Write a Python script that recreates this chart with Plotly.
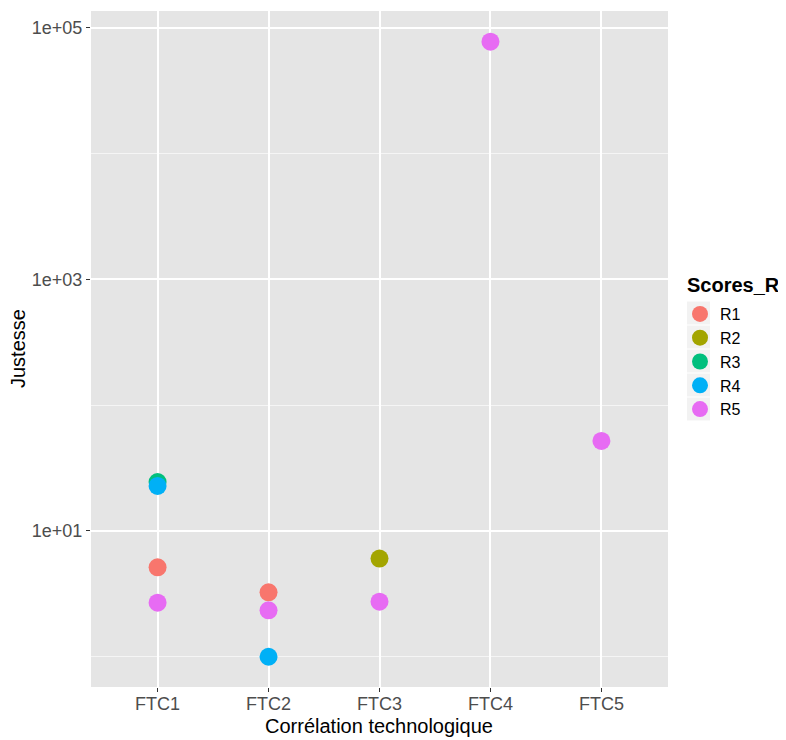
import plotly.graph_objects as go

categories = ["FTC1", "FTC2", "FTC3", "FTC4", "FTC5"]
series_names = ["R1", "R2", "R3", "R4", "R5"]
colors = ["#F8766D", "#A3A500", "#00BF7D", "#00B0F6", "#E76BF3"]

r1 = [5.14, 3.25, None, None, None]
r2 = [None, None, 6.03, None, None]
r3 = [24.5, None, None, None, None]
r4 = [22.8, 1.0, None, None, None]
r5 = [2.69, 2.34, 2.74, 77800, 52]

major_ticks = [10, 1000, 100000]
major_labels = ["1e+01", "1e+03", "1e+05"]
minor_ticks = [1, 100, 10000]

# page body has an 8px margin, so the figure sits 8px right/down in the window
OFF = 8
W, H = 786, 740
L, T = 91 - OFF, 11 - OFF
pw, ph = 577, 676
R, B = W - L - pw, H - T - ph


def px(x):
    return (x - OFF - L) / pw


def py(y):
    return (T + ph - (y - OFF)) / ph


fig = go.Figure()
for name, vals, col in zip(series_names, [r1, r2, r3, r4, r5], colors):
    fig.add_trace(go.Scatter(
        x=categories, y=vals, mode="markers", name=name,
        marker=dict(color=col, size=18, line=dict(width=0)),
    ))

font_family = "Liberation Sans, Arial, sans-serif"

# grey key backgrounds like ggplot legend
for i in range(5):
    yc = 313 + 24 * i
    fig.add_shape(type="rect", xref="paper", yref="paper",
                  x0=px(687), x1=px(710),
                  y0=py(yc + 11.5), y1=py(yc - 11.5),
                  fillcolor="#F2F2F2", line=dict(width=0), layer="below")

fig.add_annotation(text="<b>Scores_R</b>", xref="paper", yref="paper",
                   x=px(685), y=py(285), xanchor="left", yanchor="middle",
                   showarrow=False, font=dict(size=20, color="black"))
fig.add_annotation(text="Corrélation technologique", xref="paper", yref="paper",
                   x=px(379), y=py(726), xanchor="center", yanchor="middle",
                   showarrow=False, font=dict(size=20, color="black"))
fig.add_annotation(text="Justesse", xref="paper", yref="paper", textangle=-90,
                   x=px(18), y=py(349), xanchor="center", yanchor="middle",
                   showarrow=False, font=dict(size=20, color="black"))

fig.update_layout(
    width=W, height=H,
    margin=dict(l=L, r=R, t=T, b=B, autoexpand=False),
    plot_bgcolor="#E5E5E5", paper_bgcolor="white",
    font=dict(family=font_family, size=18, color="black"),
    legend=dict(
        x=px(680), xanchor="left", y=py(297), yanchor="top",
        itemsizing="trace", font=dict(size=16),
        tracegroupgap=0, bgcolor="rgba(0,0,0,0)",
    ),
    xaxis=dict(
        type="category", categoryorder="array", categoryarray=categories,
        range=[-0.6, 4.6], showgrid=True, gridcolor="white", gridwidth=1.5,
        zeroline=False, ticks="outside", ticklen=4, tickcolor="#333333",
        ticklabelstandoff=-4,
        tickfont=dict(size=18, color="#4D4D4D"), automargin=False,
    ),
    yaxis=dict(
        type="log", range=[-0.2406, 5.135],
        tickvals=major_ticks, ticktext=major_labels,
        showgrid=True, gridcolor="white", gridwidth=1.5,
        zeroline=False, ticks="outside", ticklen=4, tickcolor="#333333",
        tickfont=dict(size=18, color="#4D4D4D"), automargin=False,
        minor=dict(tickvals=minor_ticks, showgrid=True, gridcolor="#F5F5F5",
                   gridwidth=0.8, ticks=""),
    ),
)

fig.write_html("out.html")
